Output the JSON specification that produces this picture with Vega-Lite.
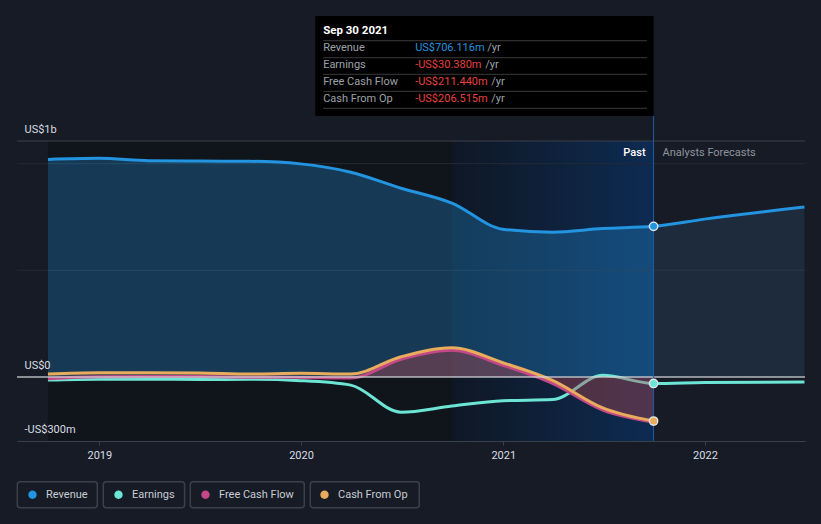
{
  "$schema": "https://vega.github.io/schema/vega-lite/v6.json",
  "width": 788,
  "height": 425,
  "autosize": {"type": "none"},
  "padding": {"left": 17, "top": 16, "right": 16, "bottom": 83},
  "background": "#161b25",
  "config": {"view": {"stroke": null}, "font": "Roboto"},
  "data": {"values": [
    {"date": "2018-09-30T00:00:00", "series": "Revenue", "value": 1020},
    {"date": "2018-12-31T00:00:00", "series": "Revenue", "value": 1025},
    {"date": "2019-03-31T00:00:00", "series": "Revenue", "value": 1014},
    {"date": "2019-06-30T00:00:00", "series": "Revenue", "value": 1012},
    {"date": "2019-09-30T00:00:00", "series": "Revenue", "value": 1011},
    {"date": "2019-12-31T00:00:00", "series": "Revenue", "value": 999},
    {"date": "2020-03-31T00:00:00", "series": "Revenue", "value": 960},
    {"date": "2020-06-30T00:00:00", "series": "Revenue", "value": 885},
    {"date": "2020-09-30T00:00:00", "series": "Revenue", "value": 815},
    {"date": "2020-12-31T00:00:00", "series": "Revenue", "value": 693},
    {"date": "2021-03-31T00:00:00", "series": "Revenue", "value": 679},
    {"date": "2021-06-30T00:00:00", "series": "Revenue", "value": 696},
    {"date": "2021-09-30T00:00:00", "series": "Revenue", "value": 706.116},
    {"date": "2021-12-31T00:00:00", "series": "Revenue", "value": 740},
    {"date": "2022-06-30T00:00:00", "series": "Revenue", "value": 797},
    {"date": "2018-09-30T00:00:00", "series": "Earnings", "value": -14},
    {"date": "2018-12-31T00:00:00", "series": "Earnings", "value": -10},
    {"date": "2019-03-31T00:00:00", "series": "Earnings", "value": -10},
    {"date": "2019-06-30T00:00:00", "series": "Earnings", "value": -12},
    {"date": "2019-09-30T00:00:00", "series": "Earnings", "value": -11},
    {"date": "2019-12-31T00:00:00", "series": "Earnings", "value": -17},
    {"date": "2020-03-31T00:00:00", "series": "Earnings", "value": -38},
    {"date": "2020-06-30T00:00:00", "series": "Earnings", "value": -165},
    {"date": "2020-09-30T00:00:00", "series": "Earnings", "value": -136},
    {"date": "2020-12-31T00:00:00", "series": "Earnings", "value": -111},
    {"date": "2021-03-31T00:00:00", "series": "Earnings", "value": -106},
    {"date": "2021-06-30T00:00:00", "series": "Earnings", "value": 8},
    {"date": "2021-09-30T00:00:00", "series": "Earnings", "value": -30.38},
    {"date": "2021-12-31T00:00:00", "series": "Earnings", "value": -26},
    {"date": "2022-06-30T00:00:00", "series": "Earnings", "value": -23},
    {"date": "2018-09-30T00:00:00", "series": "Free Cash Flow", "value": -8},
    {"date": "2018-12-31T00:00:00", "series": "Free Cash Flow", "value": 1},
    {"date": "2019-03-31T00:00:00", "series": "Free Cash Flow", "value": 2},
    {"date": "2019-06-30T00:00:00", "series": "Free Cash Flow", "value": 2},
    {"date": "2019-09-30T00:00:00", "series": "Free Cash Flow", "value": -1},
    {"date": "2019-12-31T00:00:00", "series": "Free Cash Flow", "value": -2},
    {"date": "2020-03-31T00:00:00", "series": "Free Cash Flow", "value": -5},
    {"date": "2020-06-30T00:00:00", "series": "Free Cash Flow", "value": 83},
    {"date": "2020-09-30T00:00:00", "series": "Free Cash Flow", "value": 125},
    {"date": "2020-12-31T00:00:00", "series": "Free Cash Flow", "value": 55},
    {"date": "2021-03-31T00:00:00", "series": "Free Cash Flow", "value": -30},
    {"date": "2021-06-30T00:00:00", "series": "Free Cash Flow", "value": -155},
    {"date": "2021-09-30T00:00:00", "series": "Free Cash Flow", "value": -211.44},
    {"date": "2018-09-30T00:00:00", "series": "Cash From Op", "value": 14},
    {"date": "2018-12-31T00:00:00", "series": "Cash From Op", "value": 20},
    {"date": "2019-03-31T00:00:00", "series": "Cash From Op", "value": 20},
    {"date": "2019-06-30T00:00:00", "series": "Cash From Op", "value": 19},
    {"date": "2019-09-30T00:00:00", "series": "Cash From Op", "value": 14},
    {"date": "2019-12-31T00:00:00", "series": "Cash From Op", "value": 17},
    {"date": "2020-03-31T00:00:00", "series": "Cash From Op", "value": 14},
    {"date": "2020-06-30T00:00:00", "series": "Cash From Op", "value": 95},
    {"date": "2020-09-30T00:00:00", "series": "Cash From Op", "value": 137},
    {"date": "2020-12-31T00:00:00", "series": "Cash From Op", "value": 67},
    {"date": "2021-03-31T00:00:00", "series": "Cash From Op", "value": -16},
    {"date": "2021-06-30T00:00:00", "series": "Cash From Op", "value": -145},
    {"date": "2021-09-30T00:00:00", "series": "Cash From Op", "value": -206.515}
  ]},
  "layer": [
    {
      "data": {"values": [{}]},
      "mark": {"type": "rect", "color": "#10141b"},
      "encoding": {
        "x": {"datum": {"year": 2018, "month": 9, "date": 30}, "type": "temporal", "title": null},
        "x2": {"datum": {"year": 2020, "month": 9, "date": 30}},
        "y": {"datum": 1106.25, "type": "quantitative", "title": null},
        "y2": {"datum": -300}
      }
    },
    {
      "data": {"values": [{}]},
      "mark": {"type": "rect", "fill": {"gradient": "linear", "x1": 0, "y1": 0, "x2": 1, "y2": 0, "stops": [{"offset": 0, "color": "#0f1724"}, {"offset": 1, "color": "#0d2b52"}]}},
      "encoding": {
        "x": {"datum": {"year": 2020, "month": 9, "date": 30}, "type": "temporal", "title": null},
        "x2": {"datum": {"year": 2021, "month": 9, "date": 30}},
        "y": {"datum": 1106.25, "type": "quantitative", "title": null},
        "y2": {"datum": -300}
      }
    },
    {
      "data": {"values": [{}]},
      "mark": {"type": "rule", "color": "#232a34", "strokeWidth": 1},
      "encoding": {"y": {"datum": 1000, "type": "quantitative", "title": null}}
    },
    {
      "data": {"values": [{}]},
      "mark": {"type": "rule", "color": "#232a34", "strokeWidth": 1},
      "encoding": {"y": {"datum": 500, "type": "quantitative", "title": null}}
    },
    {
      "data": {"values": [{}]},
      "mark": {"type": "rule", "color": "#3b414b", "strokeWidth": 1},
      "encoding": {"y": {"datum": 1106.25, "type": "quantitative", "title": null}}
    },
    {
      "transform": [{"filter": {"and": [{"field": "series", "equal": "Revenue"}, {"field": "date", "lte": {"year": 2021, "month": 9, "date": 30}}]}}],
      "mark": {"type": "area", "interpolate": "monotone", "color": "#2394df", "opacity": 0.3},
      "encoding": {
        "x": {
          "field": "date", "type": "temporal", "title": null,
          "scale": {"domain": [{"year": 2018, "month": 8, "date": 5}, {"year": 2022, "month": 7, "date": 1}]},
          "axis": {"format": "%Y", "tickCount": {"interval": "year", "step": 1}, "domainColor": "#3b414b", "tickColor": "#3b414b", "tickSize": 4, "labelColor": "#d9dde3", "labelFontSize": 11, "labelFont": "Roboto", "labelPadding": 4, "grid": false, "labelFlush": false, "zindex": 1}
        },
        "y": {
          "field": "value", "type": "quantitative", "title": null,
          "scale": {"domain": [-300, 1692.2], "nice": false, "zero": false},
          "axis": {"values": [-300, 0, 1106.25], "labelExpr": "datum.value == 0 ? 'US$0' : datum.value < 0 ? '-US$300m' : 'US$1b'", "domain": false, "ticks": false, "tickSize": 0, "grid": false, "labelAlign": "left", "labelBaseline": "middle", "labelPadding": -7, "labelOffset": -12, "labelColor": "#d9dde3", "labelFontSize": 11, "labelFont": "Roboto", "labelFlush": false, "zindex": 1}
        },
        "y2": {"datum": 0}
      }
    },
    {
      "transform": [{"filter": {"and": [{"field": "series", "equal": "Revenue"}, {"field": "date", "gte": {"year": 2021, "month": 9, "date": 30}}]}}],
      "mark": {"type": "area", "interpolate": "monotone", "color": "#3a6f99", "opacity": 0.2},
      "encoding": {
        "x": {"field": "date", "type": "temporal", "title": null},
        "y": {"field": "value", "type": "quantitative", "title": null},
        "y2": {"datum": 0}
      }
    },
    {
      "transform": [{"filter": {"field": "series", "equal": "Earnings"}}],
      "mark": {"type": "line", "interpolate": "monotone", "color": "#6ce5d5", "strokeWidth": 3},
      "encoding": {
        "x": {"field": "date", "type": "temporal", "title": null},
        "y": {"field": "value", "type": "quantitative", "title": null}
      }
    },
    {
      "transform": [{"filter": {"field": "series", "equal": "Cash From Op"}}],
      "mark": {"type": "area", "interpolate": "monotone", "color": "#e8ac5c", "opacity": 0.12},
      "encoding": {
        "x": {"field": "date", "type": "temporal", "title": null},
        "y": {"field": "value", "type": "quantitative", "title": null},
        "y2": {"datum": 0}
      }
    },
    {
      "transform": [{"filter": {"field": "series", "equal": "Free Cash Flow"}}],
      "mark": {"type": "area", "interpolate": "monotone", "color": "#b02a4a", "opacity": 0.3},
      "encoding": {
        "x": {"field": "date", "type": "temporal", "title": null},
        "y": {"field": "value", "type": "quantitative", "title": null},
        "y2": {"datum": 0}
      }
    },
    {
      "transform": [{"filter": {"field": "series", "equal": "Free Cash Flow"}}],
      "mark": {"type": "line", "interpolate": "monotone", "color": "#c44887", "strokeWidth": 3},
      "encoding": {
        "x": {"field": "date", "type": "temporal", "title": null},
        "y": {"field": "value", "type": "quantitative", "title": null}
      }
    },
    {
      "transform": [{"filter": {"field": "series", "equal": "Cash From Op"}}],
      "mark": {"type": "line", "interpolate": "monotone", "color": "#e8ac5c", "strokeWidth": 3},
      "encoding": {
        "x": {"field": "date", "type": "temporal", "title": null},
        "y": {"field": "value", "type": "quantitative", "title": null}
      }
    },
    {
      "transform": [{"filter": {"field": "series", "equal": "Revenue"}}],
      "mark": {"type": "line", "interpolate": "monotone", "color": "#2394df", "strokeWidth": 3},
      "encoding": {
        "x": {"field": "date", "type": "temporal", "title": null},
        "y": {"field": "value", "type": "quantitative", "title": null}
      }
    },
    {
      "data": {"values": [{}]},
      "mark": {"type": "rule", "color": "#cfd2d6", "strokeWidth": 1.5, "opacity": 0.85},
      "encoding": {"y": {"datum": 0, "type": "quantitative", "title": null}}
    },
    {
      "data": {"values": [{}]},
      "mark": {"type": "rule", "color": "#1d5ea8", "strokeWidth": 1},
      "encoding": {
        "x": {"datum": {"year": 2021, "month": 9, "date": 30}, "type": "temporal", "title": null},
        "y": {"datum": 1223.4, "type": "quantitative", "title": null},
        "y2": {"datum": -300}
      }
    },
    {
      "transform": [{"filter": {"and": [{"field": "date", "equal": {"year": 2021, "month": 9, "date": 30}}, {"not": {"field": "series", "equal": "Free Cash Flow"}}]}}],
      "mark": {"type": "point", "filled": true, "size": 95, "color": "#e3e9f0", "opacity": 1},
      "encoding": {
        "x": {"field": "date", "type": "temporal", "title": null},
        "y": {"field": "value", "type": "quantitative", "title": null}
      }
    },
    {
      "transform": [{"filter": {"and": [{"field": "date", "equal": {"year": 2021, "month": 9, "date": 30}}, {"field": "series", "equal": "Revenue"}]}}],
      "mark": {"type": "point", "filled": true, "size": 49, "opacity": 1, "color": "#2394df"},
      "encoding": {
        "x": {"field": "date", "type": "temporal", "title": null},
        "y": {"field": "value", "type": "quantitative", "title": null}
      }
    },
    {
      "transform": [{"filter": {"and": [{"field": "date", "equal": {"year": 2021, "month": 9, "date": 30}}, {"field": "series", "equal": "Earnings"}]}}],
      "mark": {"type": "point", "filled": true, "size": 49, "opacity": 1, "color": "#6ce5d5"},
      "encoding": {
        "x": {"field": "date", "type": "temporal", "title": null},
        "y": {"field": "value", "type": "quantitative", "title": null}
      }
    },
    {
      "transform": [{"filter": {"and": [{"field": "date", "equal": {"year": 2021, "month": 9, "date": 30}}, {"field": "series", "equal": "Cash From Op"}]}}],
      "mark": {"type": "point", "filled": true, "size": 49, "opacity": 1, "color": "#e8ac5c"},
      "encoding": {
        "x": {"field": "date", "type": "temporal", "title": null},
        "y": {"field": "value", "type": "quantitative", "title": null}
      }
    },
    {
      "transform": [{"filter": "false"}],
      "mark": {"type": "point", "filled": false, "size": 64, "color": "#3b404a", "strokeWidth": 1, "opacity": 1},
      "encoding": {
        "x": {"field": "date", "type": "temporal", "title": null},
        "y": {"field": "value", "type": "quantitative", "title": null},
        "shape": {
          "field": "series", "type": "nominal",
          "scale": {
            "domain": ["b1", "b2", "b3", "b4"],
            "range": [
              "M-3.05,-3.25H15.45Q16.2,-3.25 16.2,-2.5V2.5Q16.2,3.25 15.45,3.25H-3.05Q-3.8,3.25 -3.8,2.5V-2.5Q-3.8,-3.25 -3.05,-3.25Z",
              "M-3.05,-3.25H15.775Q16.525,-3.25 16.525,-2.5V2.5Q16.525,3.25 15.775,3.25H-3.05Q-3.8,3.25 -3.8,2.5V-2.5Q-3.8,-3.25 -3.05,-3.25Z",
              "M-3.05,-3.25H23.95Q24.7,-3.25 24.7,-2.5V2.5Q24.7,3.25 23.95,3.25H-3.05Q-3.8,3.25 -3.8,2.5V-2.5Q-3.8,-3.25 -3.05,-3.25Z",
              "M-3.05,-3.25H22.7Q23.45,-3.25 23.45,-2.5V2.5Q23.45,3.25 22.7,3.25H-3.05Q-3.8,3.25 -3.8,2.5V-2.5Q-3.8,-3.25 -3.05,-3.25Z"
            ]
          },
          "legend": {
            "orient": "none", "legendX": -1, "legendY": 473, "direction": "horizontal", "title": null,
            "symbolSize": 64, "symbolOffset": 11, "labelOffset": 8, "columnPadding": -1,
            "labelExpr": "''", "labelFontSize": 11, "labelFont": "Roboto"
          }
        }
      }
    },
    {
      "transform": [{"filter": "false"}],
      "mark": {"type": "point", "filled": true, "size": 64, "stroke": "transparent", "strokeWidth": 1, "opacity": 1},
      "encoding": {
        "x": {"field": "date", "type": "temporal", "title": null},
        "y": {"field": "value", "type": "quantitative", "title": null},
        "color": {
          "field": "series", "type": "nominal",
          "scale": {"domain": ["Revenue", "Earnings", "Free Cash Flow", "Cash From Op"], "range": ["#2394df", "#6ce5d5", "#c44887", "#e8ac5c"]},
          "legend": {
            "orient": "none", "legendX": -1, "legendY": 473, "direction": "horizontal", "title": null,
            "symbolType": "M-3.8,-3.25L1.05,3.25M1.05,0A1.05,1.05 0 1,1 -1.05,0A1.05,1.05 0 1,1 1.05,0Z",
            "symbolSize": 64, "symbolOffset": 11, "labelOffset": 8, "columnPadding": 12,
            "labelColor": "#c8ccd3", "labelFontSize": 11, "labelFont": "Roboto"
          }
        }
      }
    },
    {
      "data": {"values": [{}]},
      "mark": {"type": "text", "text": "Past", "align": "right", "baseline": "middle", "dx": -8, "fontSize": 11, "fontWeight": 500, "color": "#ffffff"},
      "encoding": {
        "x": {"datum": {"year": 2021, "month": 9, "date": 30}, "type": "temporal", "title": null},
        "y": {"datum": 1050, "type": "quantitative", "title": null}
      }
    },
    {
      "data": {"values": [{}]},
      "mark": {"type": "text", "text": "Analysts Forecasts", "align": "left", "baseline": "middle", "dx": 9, "fontSize": 11, "color": "#8f959e"},
      "encoding": {
        "x": {"datum": {"year": 2021, "month": 9, "date": 30}, "type": "temporal", "title": null},
        "y": {"datum": 1050, "type": "quantitative", "title": null}
      }
    },
    {
      "data": {"values": [{}]},
      "mark": {"type": "rect", "color": "#000000"},
      "encoding": {
        "x": {"datum": {"year": 2020, "month": 1, "date": 26, "hours": 17}, "type": "temporal", "title": null},
        "x2": {"datum": {"year": 2021, "month": 9, "date": 30}},
        "y": {"datum": 1692.2, "type": "quantitative", "title": null},
        "y2": {"datum": 1223.4}
      }
    },
    {
      "data": {"values": [{}]},
      "mark": {"type": "text", "text": "Sep 30 2021", "align": "left", "baseline": "middle", "fontSize": 11.5, "fontWeight": "bold", "color": "#ffffff"},
      "encoding": {
        "x": {"datum": {"year": 2020, "month": 2, "date": 10}, "type": "temporal", "title": null},
        "y": {"datum": 1621.9, "type": "quantitative", "title": null}
      }
    },
    {
      "data": {"values": [{}]},
      "mark": {"type": "rule", "color": "#3a3a3a", "strokeWidth": 1},
      "encoding": {
        "x": {"datum": {"year": 2020, "month": 2, "date": 10}, "type": "temporal", "title": null},
        "x2": {"datum": {"year": 2021, "month": 9, "date": 18}},
        "y": {"datum": 1576.4, "type": "quantitative", "title": null}
      }
    },
    {
      "data": {"values": [{}]},
      "mark": {"type": "rule", "color": "#3a3a3a", "strokeWidth": 1},
      "encoding": {
        "x": {"datum": {"year": 2020, "month": 2, "date": 10}, "type": "temporal", "title": null},
        "x2": {"datum": {"year": 2021, "month": 9, "date": 18}},
        "y": {"datum": 1496.7, "type": "quantitative", "title": null}
      }
    },
    {
      "data": {"values": [{}]},
      "mark": {"type": "rule", "color": "#3a3a3a", "strokeWidth": 1},
      "encoding": {
        "x": {"datum": {"year": 2020, "month": 2, "date": 10}, "type": "temporal", "title": null},
        "x2": {"datum": {"year": 2021, "month": 9, "date": 18}},
        "y": {"datum": 1418.9, "type": "quantitative", "title": null}
      }
    },
    {
      "data": {"values": [{}]},
      "mark": {"type": "rule", "color": "#3a3a3a", "strokeWidth": 1},
      "encoding": {
        "x": {"datum": {"year": 2020, "month": 2, "date": 10}, "type": "temporal", "title": null},
        "x2": {"datum": {"year": 2021, "month": 9, "date": 18}},
        "y": {"datum": 1339.2, "type": "quantitative", "title": null}
      }
    },
    {
      "data": {"values": [{}]},
      "mark": {"type": "rule", "color": "#3a3a3a", "strokeWidth": 1},
      "encoding": {
        "x": {"datum": {"year": 2020, "month": 2, "date": 10}, "type": "temporal", "title": null},
        "x2": {"datum": {"year": 2021, "month": 9, "date": 18}},
        "y": {"datum": 1259.5, "type": "quantitative", "title": null}
      }
    },
    {
      "data": {"values": [{}]},
      "mark": {"type": "text", "text": ["Revenue", "Earnings", "Free Cash Flow", "Cash From Op"], "align": "left", "baseline": "middle", "lineHeight": 17, "fontSize": 11, "color": "#9ea2a8"},
      "encoding": {
        "x": {"datum": {"year": 2020, "month": 2, "date": 10}, "type": "temporal", "title": null},
        "y": {"datum": 1542.2, "type": "quantitative", "title": null}
      }
    },
    {
      "data": {"values": [{}]},
      "mark": {"type": "text", "text": ["US$706.116m", " ", " ", " "], "align": "left", "baseline": "middle", "lineHeight": 17, "fontSize": 11, "color": "#2394df"},
      "encoding": {
        "x": {"datum": {"year": 2020, "month": 7, "date": 25, "hours": 12}, "type": "temporal", "title": null},
        "y": {"datum": 1542.2, "type": "quantitative", "title": null}
      }
    },
    {
      "data": {"values": [{}]},
      "mark": {"type": "text", "text": [" ", "-US$30.380m", "-US$211.440m", "-US$206.515m"], "align": "left", "baseline": "middle", "lineHeight": 17, "fontSize": 11, "color": "#e8403f"},
      "encoding": {
        "x": {"datum": {"year": 2020, "month": 7, "date": 25, "hours": 12}, "type": "temporal", "title": null},
        "y": {"datum": 1542.2, "type": "quantitative", "title": null}
      }
    },
    {
      "data": {"values": [{}]},
      "mark": {"type": "text", "text": "/yr", "align": "left", "baseline": "middle", "dx": 72, "fontSize": 11, "color": "#9ea2a8"},
      "encoding": {
        "x": {"datum": {"year": 2020, "month": 7, "date": 25, "hours": 12}, "type": "temporal", "title": null},
        "y": {"datum": 1542.2, "type": "quantitative", "title": null}
      }
    },
    {
      "data": {"values": [{}]},
      "mark": {"type": "text", "text": "/yr", "align": "left", "baseline": "middle", "dx": 70, "fontSize": 11, "color": "#9ea2a8"},
      "encoding": {
        "x": {"datum": {"year": 2020, "month": 7, "date": 25, "hours": 12}, "type": "temporal", "title": null},
        "y": {"datum": 1462.5, "type": "quantitative", "title": null}
      }
    },
    {
      "data": {"values": [{}]},
      "mark": {"type": "text", "text": "/yr", "align": "left", "baseline": "middle", "dx": 76, "fontSize": 11, "color": "#9ea2a8"},
      "encoding": {
        "x": {"datum": {"year": 2020, "month": 7, "date": 25, "hours": 12}, "type": "temporal", "title": null},
        "y": {"datum": 1382.8, "type": "quantitative", "title": null}
      }
    },
    {
      "data": {"values": [{}]},
      "mark": {"type": "text", "text": "/yr", "align": "left", "baseline": "middle", "dx": 76, "fontSize": 11, "color": "#9ea2a8"},
      "encoding": {
        "x": {"datum": {"year": 2020, "month": 7, "date": 25, "hours": 12}, "type": "temporal", "title": null},
        "y": {"datum": 1303.1, "type": "quantitative", "title": null}
      }
    }
  ]
}
